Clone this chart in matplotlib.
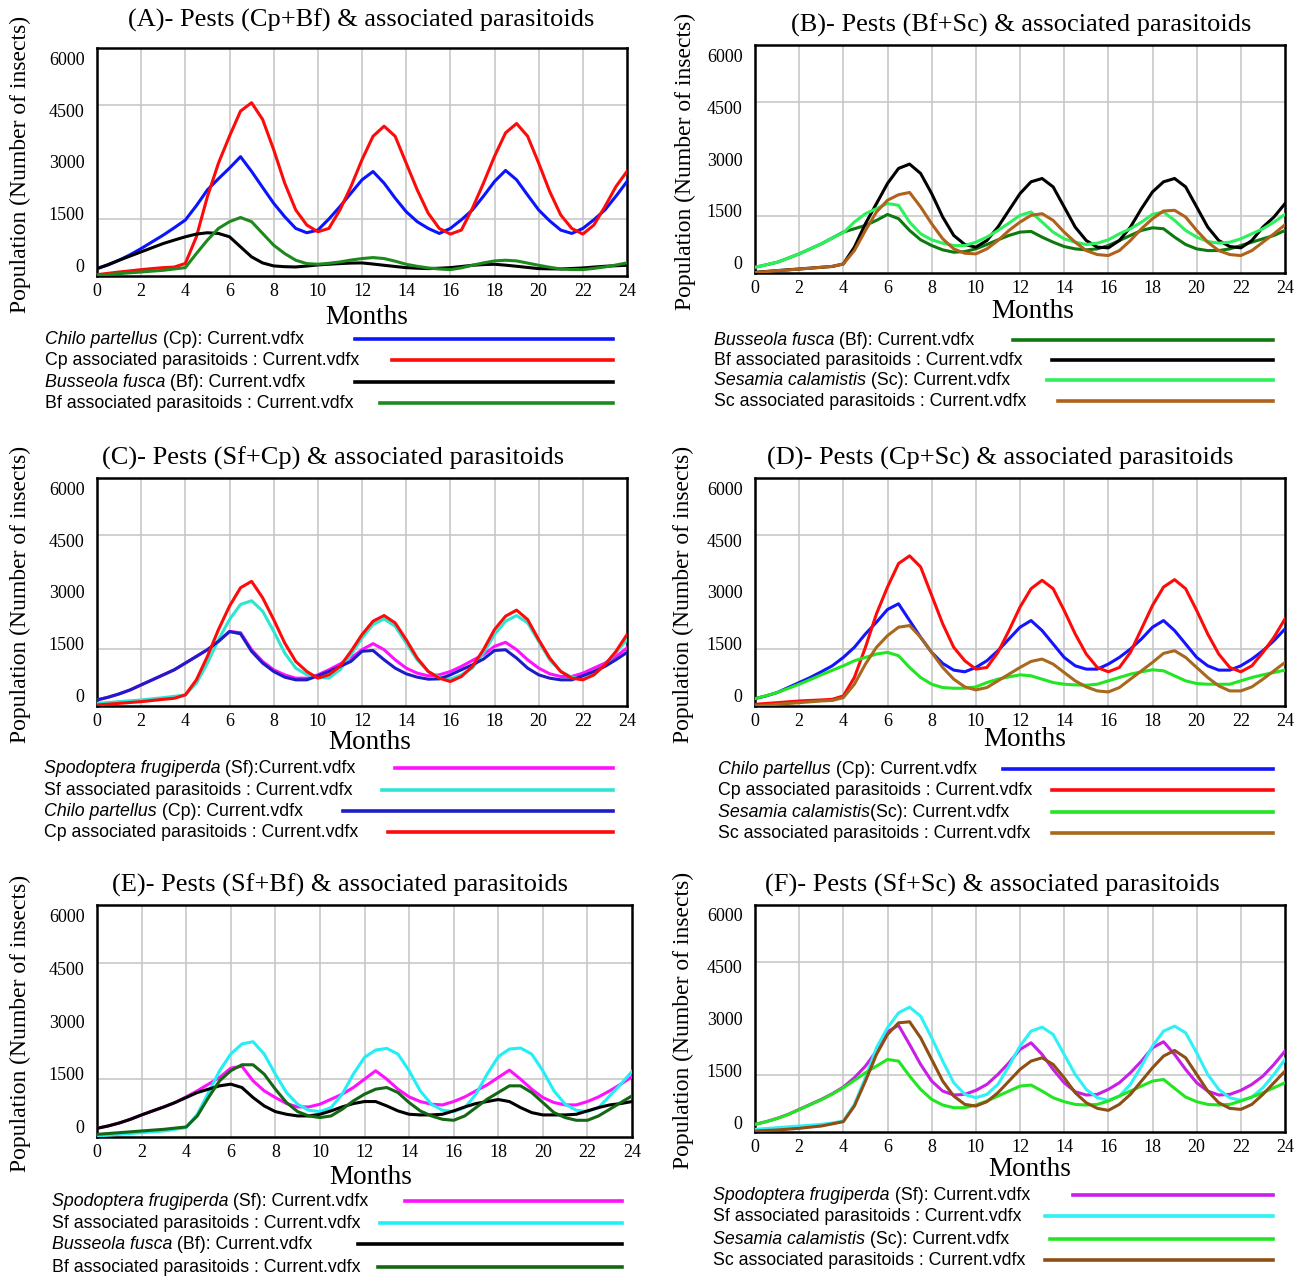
import numpy as np
import matplotlib
matplotlib.use("Agg")
import matplotlib.pyplot as plt

# ---------------- data ----------------
months = np.arange(0, 24.5, 0.5)
y_tick_values = [0, 1500, 3000, 4500, 6000]
y_tick_labels = ["0", "1500", "3000", "4500", "6000"]
x_tick_values = list(range(0, 25, 2))

# (A) Cp + Bf
A_cp = [194,290,415,560,723,900,1076,1270,1473,1850,2267,2560,2840,3140,2752,2330,1914,1560,1252,1138,1208,1500,1826,2180,2531,2750,2443,2050,1693,1430,1252,1120,1252,1480,1738,2100,2487,2778,2531,2130,1738,1450,1208,1120,1252,1480,1738,2100,2487]
A_cp_par = [35,70,105,135,168,195,220,235,330,1030,2090,2970,3680,4340,4560,4120,3325,2443,1738,1341,1164,1252,1738,2355,3060,3678,3943,3678,2972,2267,1650,1252,1103,1208,1782,2443,3149,3766,4013,3678,2972,2223,1605,1252,1103,1341,1826,2355,2752]
A_bf = [194,300,415,525,635,745,855,945,1032,1103,1138,1120,1032,767,503,344,265,245,238,262,291,310,326,340,344,315,282,250,220,205,194,205,220,250,282,300,309,285,256,225,194,188,185,198,212,235,256,270,282]
A_bf_par = [18,40,62,85,105,128,150,185,220,590,944,1252,1429,1540,1429,1120,811,590,415,326,309,335,370,420,459,485,459,390,309,255,212,185,168,215,282,345,397,415,397,340,282,230,185,170,168,200,238,290,344]

# (B) Bf + Sc
B_bf = [150,215,282,390,503,635,767,920,1076,1165,1252,1385,1540,1430,1120,873,723,609,547,565,635,750,873,988,1076,1094,944,811,697,635,609,635,723,855,988,1120,1190,1164,944,750,635,590,590,635,723,811,900,988,1120]
B_bf_par = [18,40,62,85,105,128,150,172,238,680,1296,1826,2355,2752,2866,2620,2090,1473,988,750,680,855,1208,1650,2090,2400,2487,2267,1738,1208,855,680,662,855,1208,1694,2134,2400,2487,2267,1738,1208,855,697,662,855,1208,1473,1826]
B_sc = [150,215,282,390,503,635,767,920,1060,1340,1561,1694,1830,1780,1340,1032,873,785,723,723,811,944,1120,1314,1517,1605,1340,1076,900,811,750,785,873,1032,1164,1340,1543,1605,1385,1120,944,829,785,811,900,1032,1164,1340,1543]
B_sc_par = [10,35,62,80,105,125,150,175,238,590,1120,1605,1914,2060,2120,1738,1296,900,635,520,503,635,855,1120,1340,1517,1561,1385,1076,811,590,485,459,590,855,1164,1429,1632,1650,1473,1120,811,590,485,459,590,811,1032,1270]

# (C) Sf + Cp
C_sf = [159,230,318,423,556,688,820,953,1129,1305,1482,1702,1960,1930,1482,1173,953,820,732,732,820,953,1103,1261,1482,1641,1482,1217,997,864,794,820,908,1041,1200,1350,1570,1676,1482,1217,997,847,776,776,864,997,1129,1305,1526]
C_sf_par = [70,92,115,137,159,190,220,255,291,600,1129,1746,2275,2672,2770,2496,1967,1394,997,820,759,732,953,1350,1790,2143,2293,2099,1658,1217,908,759,706,820,997,1394,1879,2231,2381,2187,1702,1217,908,759,706,820,1085,1411,1746]
C_cp = [159,230,318,423,556,688,820,953,1129,1305,1482,1702,1960,1900,1438,1129,908,759,688,688,794,908,1041,1173,1440,1460,1217,997,847,759,706,714,820,953,1085,1235,1460,1480,1261,997,820,732,688,688,794,908,1041,1217,1411]
C_cp_par = [26,48,70,92,115,145,176,203,291,688,1305,2011,2628,3113,3280,2849,2275,1658,1173,908,732,820,1041,1438,1879,2231,2381,2187,1746,1261,908,732,644,776,1041,1482,2011,2364,2523,2275,1746,1261,908,732,688,820,1085,1438,1879]

# (D) Cp + Sc
D_cp = [194,265,353,485,617,750,900,1058,1279,1544,1896,2205,2540,2690,2249,1808,1411,1120,944,900,1014,1191,1455,1764,2073,2249,1985,1632,1279,1058,970,970,1103,1279,1499,1764,2073,2249,1985,1632,1279,1058,944,944,1058,1235,1455,1720,2029]
D_cp_par = [44,66,88,110,132,146,159,176,265,750,1544,2426,3131,3749,3951,3660,2911,2161,1544,1191,970,1014,1411,1985,2602,3087,3308,3087,2514,1896,1367,1014,900,1014,1411,2029,2646,3131,3325,3087,2514,1896,1367,1014,900,1058,1411,1808,2293]
D_sc = [194,270,353,460,573,695,820,940,1058,1191,1279,1367,1411,1323,1014,750,573,485,467,467,503,617,706,767,820,794,706,617,573,556,547,573,662,750,838,900,953,926,794,662,591,573,573,573,662,750,820,882,944]
D_sc_par = [0,22,44,66,88,110,132,146,220,573,1103,1544,1852,2073,2117,1808,1411,1014,706,503,423,485,662,838,1014,1173,1235,1103,882,662,503,397,370,485,706,926,1147,1385,1455,1279,1014,750,529,397,397,503,706,926,1147]

# (E) Sf + Bf
E_sf = [225,285,363,458,571,675,778,891,1038,1194,1367,1540,1780,1830,1453,1194,1021,865,778,778,848,977,1107,1280,1496,1713,1496,1237,1038,917,848,830,917,1038,1194,1349,1540,1730,1496,1237,1021,891,830,830,917,1038,1194,1367,1557]
E_sf_par = [26,48,69,90,112,134,156,200,242,588,1150,1713,2145,2405,2465,2145,1626,1150,848,692,657,761,1107,1626,2059,2249,2292,2145,1713,1194,848,692,657,761,1107,1626,2076,2275,2301,2145,1713,1194,848,692,657,761,1064,1367,1695]
E_bf = [225,285,363,458,571,675,778,891,1021,1150,1237,1323,1367,1280,1021,804,657,588,545,545,588,675,778,865,917,917,804,675,588,571,571,588,675,778,865,917,969,917,761,631,571,571,571,588,675,761,830,865,917]
E_bf_par = [69,90,112,134,156,178,199,230,260,545,1021,1453,1713,1868,1868,1626,1237,891,657,545,502,545,718,934,1107,1237,1280,1150,891,675,545,458,432,545,761,977,1150,1323,1323,1150,891,631,502,432,432,545,718,891,1064]

# (F) Sf + Sc
F_sf = [202,273,361,466,598,730,862,1012,1188,1434,1742,2138,2650,2820,2314,1786,1346,1082,977,994,1100,1258,1522,1830,2182,2358,2050,1654,1302,1065,977,994,1126,1302,1566,1874,2226,2385,2050,1654,1302,1082,977,994,1100,1258,1478,1786,2138]
F_sf_par = [70,92,114,136,158,180,202,240,290,730,1434,2226,2754,3150,3300,3062,2490,1874,1302,994,906,994,1258,1742,2270,2666,2772,2578,2050,1522,1126,906,836,950,1258,1742,2270,2666,2798,2622,2094,1522,1126,906,836,924,1170,1522,1918]
F_sc = [202,270,355,460,590,720,850,1000,1170,1364,1566,1742,1918,1874,1478,1126,862,713,642,642,713,818,950,1082,1214,1241,1082,906,801,730,713,730,818,950,1082,1214,1346,1390,1153,924,801,730,713,730,818,924,1038,1170,1302]
F_sc_par = [26,40,53,75,97,128,158,215,273,686,1346,2050,2578,2886,2913,2490,1918,1346,950,730,686,801,1038,1346,1654,1874,1962,1786,1434,1038,774,625,572,730,994,1346,1698,2006,2156,1962,1522,1082,774,625,598,730,994,1302,1610]

titles = [
    "(A)- Pests (Cp+Bf) & associated parasitoids",
    "(B)- Pests (Bf+Sc) & associated parasitoids",
    "(C)- Pests (Sf+Cp) & associated parasitoids",
    "(D)- Pests (Cp+Sc) & associated parasitoids",
    "(E)- Pests (Sf+Bf) & associated parasitoids",
    "(F)- Pests (Sf+Sc) & associated parasitoids",
]

# legend entries: (italic part, regular part)
legends = [
    [("Chilo partellus", " (Cp): Current.vdfx"), ("", "Cp associated parasitoids : Current.vdfx"),
     ("Busseola fusca", " (Bf): Current.vdfx"), ("", "Bf associated parasitoids : Current.vdfx")],
    [("Busseola fusca", " (Bf): Current.vdfx"), ("", "Bf associated parasitoids : Current.vdfx"),
     ("Sesamia calamistis", " (Sc): Current.vdfx"), ("", "Sc associated parasitoids : Current.vdfx")],
    [("Spodoptera frugiperda", " (Sf):Current.vdfx"), ("", "Sf associated parasitoids : Current.vdfx"),
     ("Chilo partellus", " (Cp): Current.vdfx"), ("", "Cp associated parasitoids : Current.vdfx")],
    [("Chilo partellus", " (Cp): Current.vdfx"), ("", "Cp associated parasitoids : Current.vdfx"),
     ("Sesamia calamistis", "(Sc): Current.vdfx"), ("", "Sc associated parasitoids : Current.vdfx")],
    [("Spodoptera frugiperda", " (Sf): Current.vdfx"), ("", "Sf associated parasitoids : Current.vdfx"),
     ("Busseola fusca", " (Bf): Current.vdfx"), ("", "Bf associated parasitoids : Current.vdfx")],
    [("Spodoptera frugiperda", " (Sf): Current.vdfx"), ("", "Sf associated parasitoids : Current.vdfx"),
     ("Sesamia calamistis", " (Sc): Current.vdfx"), ("", "Sc associated parasitoids : Current.vdfx")],
]

series = [
    [A_cp, A_cp_par, A_bf, A_bf_par],
    [B_bf, B_bf_par, B_sc, B_sc_par],
    [C_sf, C_sf_par, C_cp, C_cp_par],
    [D_cp, D_cp_par, D_sc, D_sc_par],
    [E_sf, E_sf_par, E_bf, E_bf_par],
    [F_sf, F_sf_par, F_sc, F_sc_par],
]

colors = [
    ["#0a14ff", "#ff0a0a", "#000000", "#1e8a1e"],
    ["#0e7a0e", "#000000", "#2cf05c", "#b0621c"],
    ["#ff10ff", "#2ee6d0", "#1c1cc8", "#ff0a0a"],
    ["#1414ff", "#ff0a0a", "#22e622", "#a8681e"],
    ["#ff10ff", "#22eef6", "#000000", "#146814"],
    ["#c81ee6", "#2ef0f6", "#22e622", "#8e4e14"],
]

# ---------------- layout (pixels) ----------------
W, H = 1307, 1278
layout = [
    dict(box=(97, 48, 627, 276), title=(361, 20), ylab_x=20, months=(367, 317),
         leg_x=45, leg_y=[339, 360, 382, 403], lx0=[355, 392, 355, 380], lx1=613),
    dict(box=(755, 45, 1285, 273), title=(1021, 25), ylab_x=685, months=(1033, 312),
         leg_x=714, leg_y=[340, 360, 380, 401], lx0=[1013, 1052, 1047, 1058], lx1=1273),
    dict(box=(97, 478, 627, 706), title=(333, 458), ylab_x=20, months=(370, 742),
         leg_x=44, leg_y=[768, 790, 811, 832], lx0=[395, 382, 343, 388], lx1=613),
    dict(box=(755, 478, 1285, 706), title=(1000, 458), ylab_x=683, months=(1025, 740),
         leg_x=718, leg_y=[769, 790, 812, 833], lx0=[1003, 1052, 1052, 1052], lx1=1273),
    dict(box=(97, 905, 632, 1137), title=(340, 885), ylab_x=20, months=(371, 1177),
         leg_x=52, leg_y=[1201, 1223, 1244, 1267], lx0=[405, 380, 358, 378], lx1=622),
    dict(box=(755, 905, 1285, 1132), title=(992, 885), ylab_x=683, months=(1030, 1170),
         leg_x=713, leg_y=[1195, 1216, 1239, 1260], lx0=[1073, 1045, 1050, 1045], lx1=1273),
]

SERIF = "Liberation Serif"
SANS = "Liberation Sans"

fig = plt.figure(figsize=(W / 100, H / 100), dpi=100)
fig.patch.set_facecolor("white")


def fx(x):
    return x / W


def fy(y):
    return 1 - y / H


# compressed label placement (labels sit slightly inside the frame, like the original export)
label_pos = [3000 + (v - 3000) * 0.912 for v in y_tick_values]

for i, lay in enumerate(layout):
    x0, y0, x1, y1 = lay["box"]
    ax = fig.add_axes([fx(x0), fy(y1), (x1 - x0) / W, (y1 - y0) / H])
    for s, c in zip(series[i], colors[i]):
        ax.plot(months, s, color=c, lw=2.2, solid_joinstyle="round", zorder=3)
    ax.set_xlim(0, 24)
    ax.set_ylim(0, 6000)
    ax.set_xticks(x_tick_values)
    ax.set_xticklabels([str(v) for v in x_tick_values])
    ax.set_yticks(label_pos)
    ax.set_yticklabels(y_tick_labels)
    ax.set_yticks(y_tick_values[1:-1], minor=True)
    ax.tick_params(axis="both", which="both", length=0)
    ax.tick_params(axis="x", pad=5)
    ax.tick_params(axis="y", pad=9)
    for lab in ax.get_xticklabels() + ax.get_yticklabels():
        lab.set_fontfamily(SERIF)
        lab.set_fontsize(13)
    ax.grid(False)
    for xv in x_tick_values[1:-1]:
        ax.axvline(xv, color="#c8c8c8", lw=1.2, zorder=1)
    ax.grid(True, which="minor", axis="y", color="#c8c8c8", lw=1.2, zorder=1)
    for sp in ax.spines.values():
        sp.set_linewidth(1.8)
        sp.set_color("black")
    ax.set_axisbelow(True)

    # title, axis labels
    fig.text(fx(lay["title"][0]), fy(lay["title"][1]), titles[i], ha="center", va="center",
             fontfamily=SERIF, fontsize=19)
    fig.text(fx(lay["ylab_x"]), fy((y0 + y1) / 2 + 2), "Population (Number of insects)", rotation=90,
             ha="center", va="center", fontfamily=SERIF, fontsize=17)
    fig.text(fx(lay["months"][0]), fy(lay["months"][1]), "Months", ha="center", va="center",
             fontfamily=SERIF, fontsize=19.5)

# legends
renderer = fig.canvas.get_renderer()
for i, lay in enumerate(layout):
    for j, (ital, reg) in enumerate(legends[i]):
        ty = lay["leg_y"][j] + 5
        xpos = lay["leg_x"]
        if ital:
            t1 = fig.text(fx(xpos), fy(ty), ital, ha="left", va="baseline", fontfamily=SANS,
                          fontstyle="italic", fontsize=12.8)
            bb = t1.get_window_extent(renderer)
            xpos = bb.x1
        fig.text(fx(xpos), fy(ty), reg, ha="left", va="baseline", fontfamily=SANS, fontsize=12.8)
        ly = lay["leg_y"][j]
        fig.add_artist(plt.Line2D([fx(lay["lx0"][j]), fx(lay["lx1"])], [fy(ly), fy(ly)],
                                  transform=fig.transFigure, color=colors[i][j], lw=2.6))

fig.savefig("out.png", dpi=100, facecolor="white")
